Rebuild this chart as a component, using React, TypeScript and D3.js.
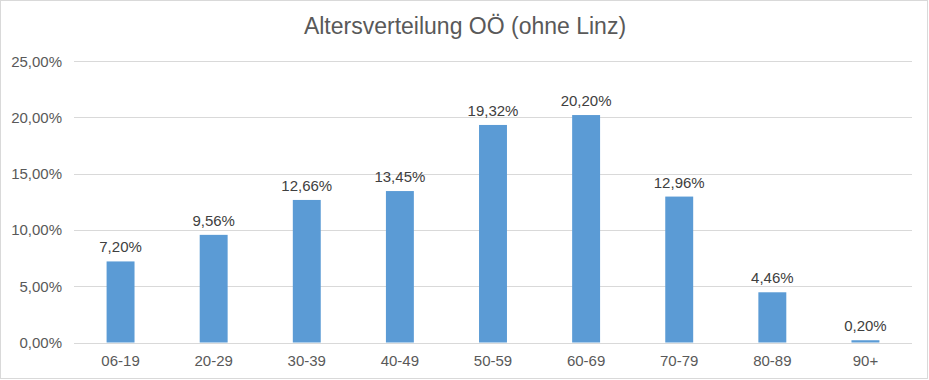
import React from "react";
import * as d3 from "d3";

const categories = ["06-19", "20-29", "30-39", "40-49", "50-59", "60-69", "70-79", "80-89", "90+"];
const values = [7.2, 9.56, 12.66, 13.45, 19.32, 20.2, 12.96, 4.46, 0.2];
const yTicks = [0, 5, 10, 15, 20, 25];
const title = "Altersverteilung OÖ (ohne Linz)";

const W = 929;
const H = 380;
const fmt = (v: number) => v.toFixed(2).replace(".", ",") + "%";

export default function App() {
  const x = d3.scaleBand<string>().domain(categories).range([74, 912]).padding(0);
  const y = d3.scaleLinear().domain([0, 25]).range([342.5, 61]);
  const bw = x.bandwidth() * 0.3;
  const font = "Arial, 'Liberation Sans', sans-serif";
  return (
    <svg width={W} height={H} style={{ position: "absolute", left: 0, top: 0 }}>
      <rect x={0.5} y={0.5} width={W - 2} height={H - 2} fill="#fff" stroke="#d9d9d9" />
      <text x={465} y={33.5} textAnchor="middle" fontFamily={font} fontSize={23} fill="#595959">
        {title}
      </text>
      {yTicks.map((t) => (
        <g key={t}>
          <line x1={74} x2={912} y1={Math.round(y(t)) + 0.5} y2={Math.round(y(t)) + 0.5} stroke="#d9d9d9" />
          <text x={62} y={y(t) + 5.5} textAnchor="end" fontFamily={font} fontSize={15} fill="#595959">
            {fmt(t)}
          </text>
        </g>
      ))}
      {categories.map((c, i) => {
        const cx = (x(c) as number) + x.bandwidth() / 2;
        return (
          <g key={c}>
            <rect x={cx - bw / 2} y={y(values[i])} width={bw} height={y(0) - y(values[i])} fill="#5b9bd5" />
            <text x={cx} y={y(values[i]) - 9} textAnchor="middle" fontFamily={font} fontSize={15} fill="#404040">
              {fmt(values[i])}
            </text>
            <text x={cx} y={366} textAnchor="middle" fontFamily={font} fontSize={15} fill="#595959">
              {c}
            </text>
          </g>
        );
      })}
    </svg>
  );
}
